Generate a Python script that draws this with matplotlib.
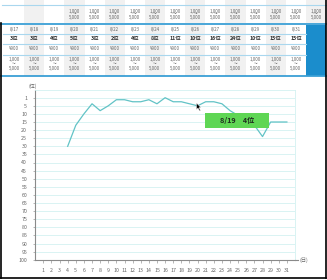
import numpy as np
import matplotlib
matplotlib.use('Agg')
import matplotlib.pyplot as plt
from matplotlib.patches import Rectangle, Polygon

plt.rcParams['font.family'] = ['Noto Sans CJK JP', 'DejaVu Sans']

# table above the chart (8/17 - 8/31)
dates = ['8/17', '8/18', '8/19', '8/20', '8/21', '8/22', '8/23', '8/24',
         '8/25', '8/26', '8/27', '8/28', '8/29', '8/30', '8/31']
table_ranks = ['3位', '3位', '4位', '5位', '3位', '2位', '4位', '8位',
               '11位', '10位', '16位', '24位', '10位', '15位', '15位']
prices = ['¥900'] * 15
range_lo = '1,000'
range_hi = '5,000'

# chart: rank per day
days = list(range(4, 32))
ranks = [30, 17, 10, 4, 8, 5, 2, 2, 3, 3, 2, 4, 1, 3, 3, 4, 5, 3, 3, 4,
         8, 11, 12, 17, 24, 15, 15, 15]
ytick_vals = [1] + list(range(5, 101, 5))
xtick_vals = list(range(1, 32))
tooltip = '8/19　4位'

BLUE = '#3a9fd5'
LIGHTBLUE = '#a9d7ee'
GRAY_CELL = '#f1f1f1'
TXT = '#666666'


def fwd(v):
    v = np.asarray(v, dtype=float)
    return np.where(v < 5, (v - 1) * 1.25, v)


def inv(p):
    p = np.asarray(p, dtype=float)
    return np.where(p < 5, p / 1.25 + 1, p)


fig = plt.figure(figsize=(3.27, 2.8), dpi=100)
fig.patch.set_facecolor('white')

# background layer in pixel coords
bg = fig.add_axes([0, 0, 1, 1])
bg.set_xlim(0, 327)
bg.set_ylim(280, 0)
bg.axis('off')

col_w = 20.13
x0 = 4

# top (cut off) table
for i in range(16):
    if i % 2 == 1:
        bg.add_patch(Rectangle((x0 + i * col_w, 0), col_w, 22.5, color=GRAY_CELL, lw=0))
    if i >= 3:
        cx = x0 + (i + 0.5) * col_w
        bg.text(cx, 11, range_lo, ha='center', va='center', fontsize=3.2, color=TXT)
        bg.text(cx, 14.4, '～', ha='center', va='center', fontsize=2.6, color=TXT)
        bg.text(cx, 17.8, range_hi, ha='center', va='center', fontsize=3.2, color=TXT)
bg.plot([2, 326], [4.7, 4.7], color=LIGHTBLUE, lw=0.8)

# second table
rows = [24.7, 34, 43.5, 54.5, 76]
for i in range(15):
    if i % 2 == 1:
        bg.add_patch(Rectangle((x0 + i * col_w, rows[0]), col_w, rows[-1] - rows[0],
                               color=GRAY_CELL, lw=0))
    cx = x0 + (i + 0.5) * col_w
    bg.text(cx, 29.4, dates[i], ha='center', va='center', fontsize=3.2, color=TXT)
    bg.text(cx, 38.8, table_ranks[i], ha='center', va='center', fontsize=3.8,
            color='#333333', fontweight='bold')
    bg.text(cx, 49, prices[i], ha='center', va='center', fontsize=3.2, color=TXT)
    bg.text(cx, 60, range_lo, ha='center', va='center', fontsize=3.2, color=TXT)
    bg.text(cx, 63.6, '～', ha='center', va='center', fontsize=2.6, color=TXT)
    bg.text(cx, 68.2, range_hi, ha='center', va='center', fontsize=3.2, color=TXT)
bg.add_patch(Rectangle((306, rows[0]), 19.5, rows[-1] - rows[0], color='#1b8dcc', lw=0))
for y in rows[1:-1]:
    bg.plot([3, 306], [y, y], color=LIGHTBLUE, lw=0.8)
bg.plot([1, 326], [23.6, 23.6], color=BLUE, lw=1.3)
bg.plot([1, 326], [76.3, 76.3], color=BLUE, lw=1.3)

# black frame
bg.plot([325.6, 325.6], [0, 278], color='black', lw=1.2)
bg.plot([0.8, 0.8], [22.5, 278], color='black', lw=1.2)
bg.plot([0, 326], [277.6, 277.6], color='black', lw=1.2)

# chart
ax = fig.add_axes([35.2 / 327, 1 - 259.7 / 280, 259.8 / 327, 170.1 / 280])
ax.set_facecolor('none')
ax.set_yscale('function', functions=(fwd, inv))
ax.plot(days, ranks, color='#62c3c6', lw=0.9, zorder=3)
ax.set_xlim(0, 32)
ax.set_ylim(100, -3)

ax.set_xticks(xtick_vals)
ax.set_xticklabels([str(d) for d in xtick_vals])
ax.set_xticks(range(0, 33), minor=True)
ax.set_yticks(ytick_vals)
ax.set_yticklabels([str(v) for v in ytick_vals])
ax.yaxis.set_minor_locator(matplotlib.ticker.NullLocator())
ax.grid(which='minor', axis='x', color='#d3f1f1', lw=0.6)
ax.grid(which='major', axis='y', color='#d3f1f1', lw=0.6)
ax.set_axisbelow(True)
ax.tick_params(axis='both', which='major', labelsize=3.8, labelcolor=TXT,
               color='#999999', length=1.8, width=0.5, pad=4)
ax.tick_params(axis='x', which='minor', length=0)
for s in ['top', 'right']:
    ax.spines[s].set_color('#d3f1f1')
    ax.spines[s].set_linewidth(0.6)
for s in ['left', 'bottom']:
    ax.spines[s].set_color('#8a8a8a')
    ax.spines[s].set_linewidth(0.8)

# overlay: axis units, tooltip, cursor
top = fig.add_axes([0, 0, 1, 1])
top.set_xlim(0, 327)
top.set_ylim(280, 0)
top.axis('off')
top.text(33, 86, '(位)', ha='center', va='center', fontsize=3.6, color=TXT)
top.plot([295, 298], [259.7, 259.7], color='#8a8a8a', lw=0.8)
top.text(304, 260.3, '(日)', ha='center', va='center', fontsize=3.8, color=TXT)
top.add_patch(Rectangle((205, 112.7), 64, 15, color='#5fd654', lw=0))
top.text(237, 120.4, tooltip, ha='center', va='center', fontsize=5.2,
         fontweight='bold', color='#1e2a1e')
top.add_patch(Polygon([[196.5, 103], [196.5, 109.5], [198, 108], [199.6, 111],
                       [200.5, 110.5], [199, 107.6], [201, 107.6]],
                      closed=True, facecolor='black', edgecolor='white', lw=0.3))

fig.savefig('out.png', dpi=100)
